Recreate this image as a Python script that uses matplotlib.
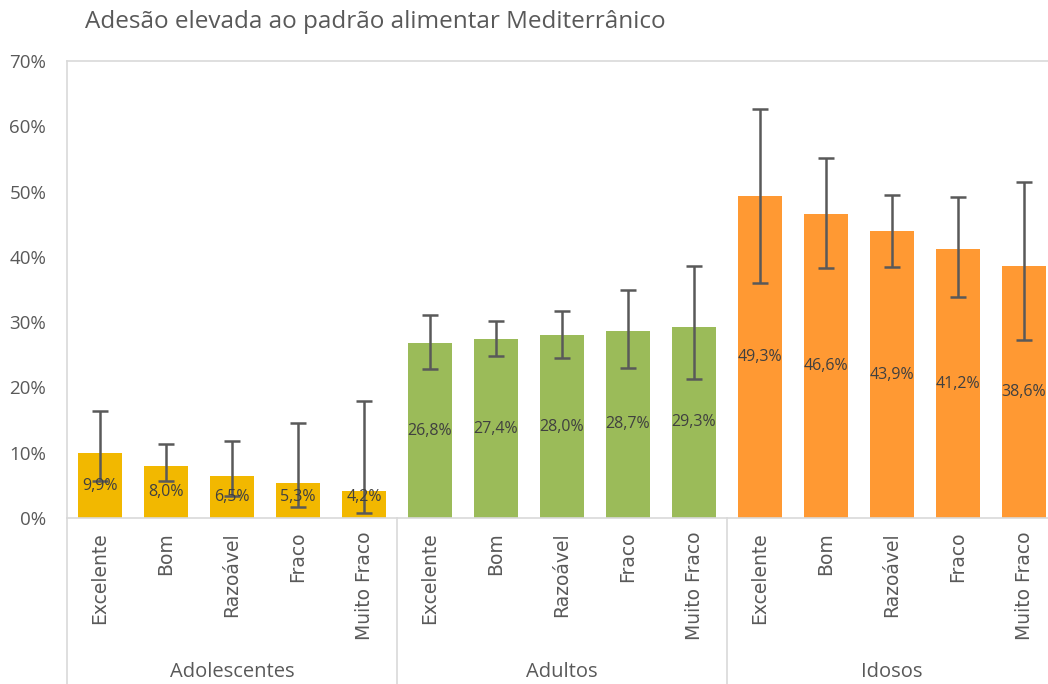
import matplotlib.pyplot as plt
import matplotlib.transforms as mtransforms
import numpy as np

# dados
grupos = ["Adolescentes", "Adultos", "Idosos"]
niveis = ["Excelente", "Bom", "Razoável", "Fraco", "Muito Fraco"]

adolescentes = [9.9, 8.0, 6.5, 5.3, 4.2]
adultos = [26.8, 27.4, 28.0, 28.7, 29.3]
idosos = [49.3, 46.6, 43.9, 41.2, 38.6]

# intervalos (limite inferior / superior)
adolescentes_inf = [5.7, 5.6, 3.4, 1.7, 0.8]
adolescentes_sup = [16.4, 11.3, 11.8, 14.5, 17.9]
adultos_inf = [22.8, 24.8, 24.5, 23.0, 21.3]
adultos_sup = [31.1, 30.1, 31.7, 34.9, 38.6]
idosos_inf = [36.0, 38.3, 38.5, 33.8, 27.3]
idosos_sup = [62.6, 55.1, 49.4, 49.1, 51.5]

cores = ["#F2B800", "#9BBB59", "#FF9933"]
cinza = "#595959"
linha = "#D9D9D9"

valores = [adolescentes, adultos, idosos]
inferiores = [adolescentes_inf, adultos_inf, idosos_inf]
superiores = [adolescentes_sup, adultos_sup, idosos_sup]

fig = plt.figure(figsize=(10.48, 6.84), dpi=100)
W, H = 1048, 684
ax = fig.add_axes([67 / W, 1 - 518 / H, (1057 - 67) / W, (518 - 61) / H])

n = len(niveis)
for g in range(len(grupos)):
    x = np.arange(n) + g * n
    v = np.array(valores[g])
    lo = v - np.array(inferiores[g])
    hi = np.array(superiores[g]) - v
    ax.bar(x, v, width=0.67, color=cores[g], zorder=2)
    ax.errorbar(x, v, yerr=[lo, hi], fmt="none", ecolor=cinza, elinewidth=1.8,
                capsize=5.5, capthick=1.8, zorder=3)
    for xi, vi in zip(x, v):
        ax.text(xi, max(vi / 2, 3.2), f"{vi:.1f}%".replace(".", ","), ha="center",
                va="center", fontsize=11.5, color="#404040", family="Open Sans", zorder=4)

ax.set_xlim(-0.5, 3 * n - 0.5)
ax.set_ylim(0, 70)
ax.set_yticks(np.arange(0, 71, 10))
ax.set_yticklabels([f"{t}%" for t in range(0, 71, 10)], family="Open Sans",
                   fontsize=13.5, color=cinza)

ax.set_xticks(np.arange(3 * n))
ax.set_xticklabels(niveis * 3, rotation=90, fontsize=13.5, color=cinza,
                   family="DejaVu Sans")
ax.tick_params(axis="both", length=0)
ax.tick_params(axis="x", pad=10)
ax.tick_params(axis="y", pad=15)

for s in ["left", "top", "bottom"]:
    ax.spines[s].set_color(linha)
    ax.spines[s].set_linewidth(1.2)
ax.spines["right"].set_visible(False)

# separadores e nomes dos grupos
trans = mtransforms.blended_transform_factory(ax.transData, ax.transAxes)
for g in range(len(grupos) + 1):
    ax.plot([g * n - 0.5] * 2, [0, -0.37], transform=trans, color=linha,
            lw=1.2, clip_on=False)
for g, nome in enumerate(grupos):
    ax.text(g * n + (n - 1) / 2, -0.337, nome, transform=trans, ha="center",
            va="center", fontsize=14.5, color=cinza, family="Open Sans")

fig.text(85 / W, 1 - 22 / H, "Adesão elevada ao padrão alimentar Mediterrânico",
         ha="left", va="center", fontsize=17.5, color=cinza, family="Open Sans")

fig.savefig("out.png", dpi=100)
